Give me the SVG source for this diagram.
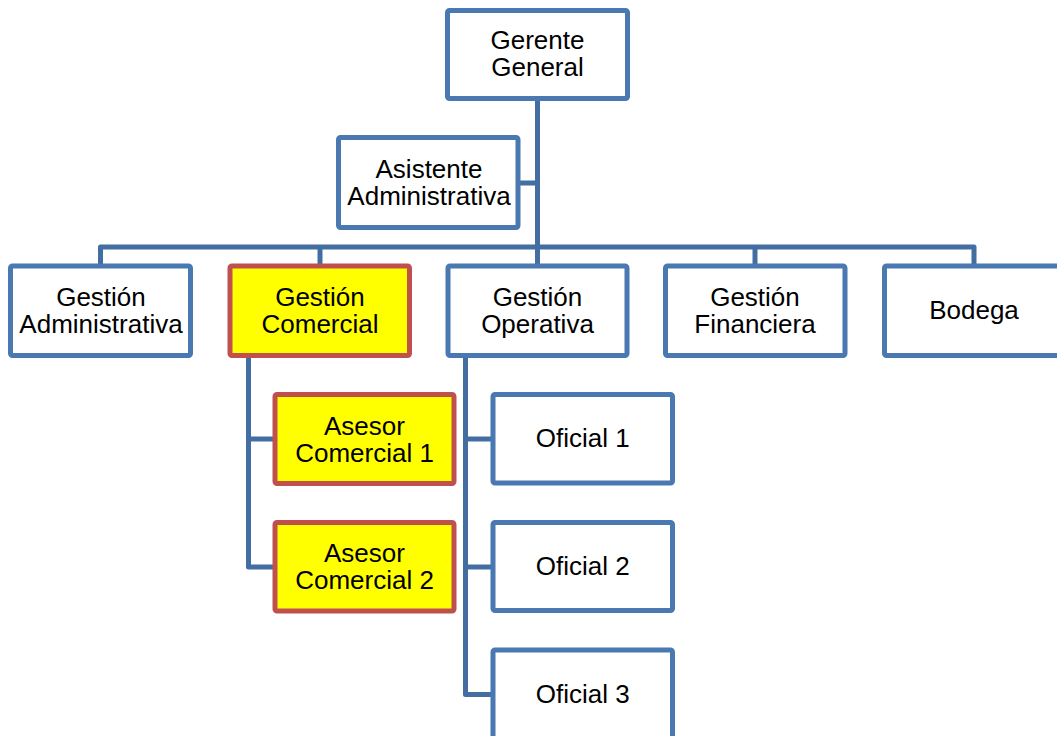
<svg xmlns="http://www.w3.org/2000/svg" width="1057" height="736" viewBox="0 0 1057 736">
<style>
.box{fill:#FFFFFF;stroke:#4A79B2;stroke-width:5;}
.hl{fill:#FFFF00;stroke:#C0504D;stroke-width:5;}
.con{fill:none;stroke:#426EA2;stroke-width:5;stroke-linejoin:round;}
text{font-family:"Liberation Sans",Arial,sans-serif;font-size:26px;fill:#000000;text-anchor:middle;}
</style>
<rect width="1057" height="736" fill="#FFFFFF"/>
<g id="connectors">
<path class="con" d="M537.5,98.5 V247"/>
<path class="con" d="M518,183 H537.5"/>
<path class="con" d="M100.5,266 V247 H974 V266"/>
<path class="con" d="M320,247 V266"/>
<path class="con" d="M537.5,247 V266"/>
<path class="con" d="M755,247 V266"/>
<path class="con" d="M248.5,355.5 V567 H275"/>
<path class="con" d="M248.5,439 H275"/>
<path class="con" d="M465.5,355.5 V694.5 H493"/>
<path class="con" d="M465.5,439 H493"/>
<path class="con" d="M465.5,567 H493"/>
</g>
<g id="gerente">
<rect class="box" x="447.5" y="10.5" width="180" height="88" rx="2"/>
<text x="537.5" y="49">Gerente</text>
<text x="537.5" y="76">General</text>
</g>
<g id="asistente">
<rect class="box" x="338.5" y="137.5" width="179.5" height="90" rx="2"/>
<text x="429" y="178">Asistente</text>
<text x="429" y="205">Administrativa</text>
</g>
<g id="gestion-administrativa">
<rect class="box" x="10.5" y="266" width="180" height="89.5" rx="2"/>
<text x="101" y="306">Gestión</text>
<text x="101" y="333">Administrativa</text>
</g>
<g id="gestion-comercial">
<rect class="hl" x="230" y="266" width="179.5" height="89.5" rx="2"/>
<text x="320" y="306">Gestión</text>
<text x="320" y="333">Comercial</text>
</g>
<g id="gestion-operativa">
<rect class="box" x="448" y="266" width="179" height="89.5" rx="2"/>
<text x="537.5" y="306">Gestión</text>
<text x="537.5" y="333">Operativa</text>
</g>
<g id="gestion-financiera">
<rect class="box" x="665.5" y="266" width="179.5" height="89.5" rx="2"/>
<text x="755" y="306">Gestión</text>
<text x="755" y="333">Financiera</text>
</g>
<g id="bodega">
<rect class="box" x="884.5" y="266" width="179.5" height="89.5" rx="2"/>
<text x="974" y="318.5">Bodega</text>
</g>
<g id="asesor-comercial-1">
<rect class="hl" x="275" y="394.5" width="179" height="89" rx="2"/>
<text x="364.5" y="434.5">Asesor</text>
<text x="364.5" y="461.5">Comercial 1</text>
</g>
<g id="asesor-comercial-2">
<rect class="hl" x="275" y="522.5" width="179" height="88.5" rx="2"/>
<text x="364.5" y="562">Asesor</text>
<text x="364.5" y="589">Comercial 2</text>
</g>
<g id="oficial-1">
<rect class="box" x="493" y="394.5" width="179.5" height="88.5" rx="2"/>
<text x="582.7" y="447">Oficial 1</text>
</g>
<g id="oficial-2">
<rect class="box" x="493" y="522.5" width="179.5" height="88" rx="2"/>
<text x="582.7" y="575">Oficial 2</text>
</g>
<g id="oficial-3">
<rect class="box" x="493" y="650" width="179.5" height="89" rx="2"/>
<text x="582.7" y="703">Oficial 3</text>
</g>
</svg>
